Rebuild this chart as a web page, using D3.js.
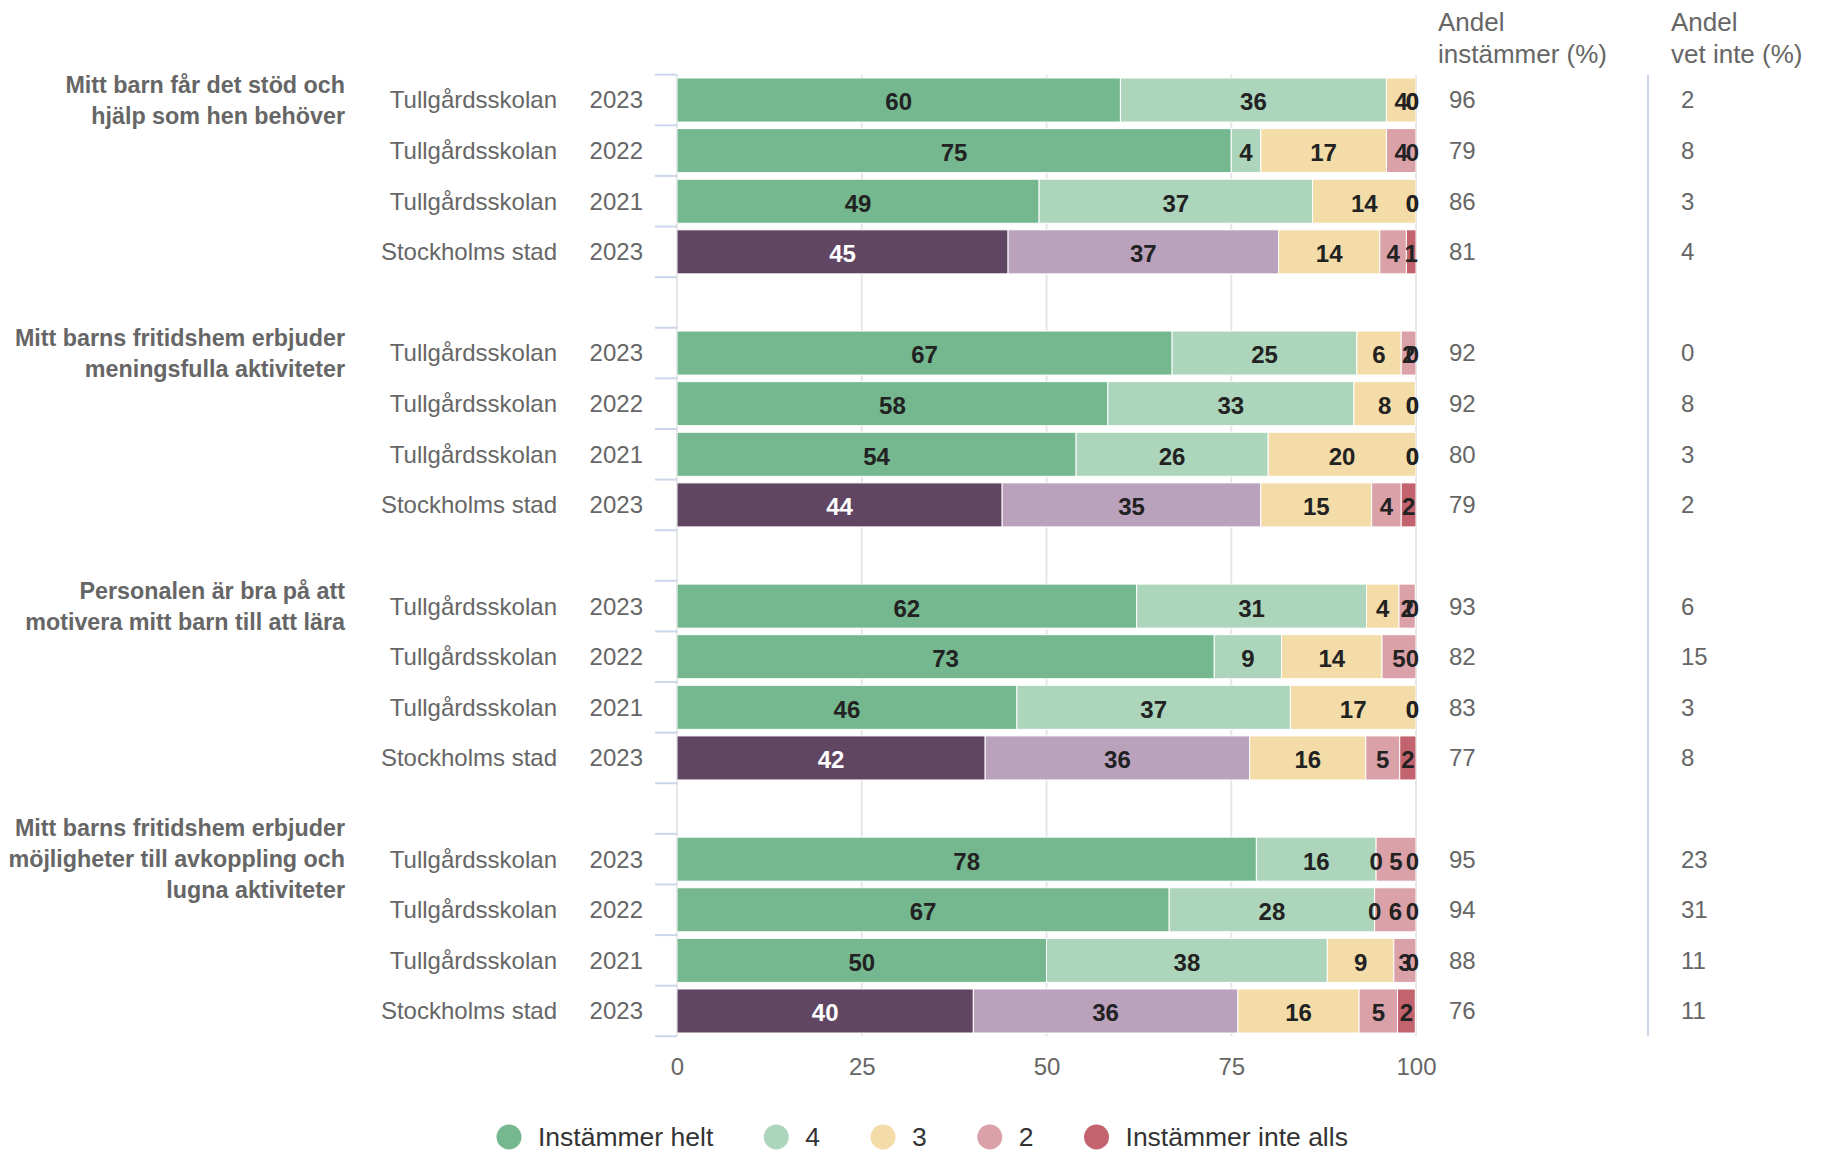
<!DOCTYPE html>
<html lang="sv">
<head>
<meta charset="utf-8">
<title>Fritidshem</title>
<script src="https://cdn.jsdelivr.net/npm/d3@7"></script>
<style>
  body { margin: 0; background: #fff; }
  svg { display: block; font-family: "Liberation Sans", Arial, Helvetica, sans-serif; }
</style>
</head>
<body>
<div id="chart"></div>
<script>
// Frågor, en per grupp (radbrytningar som i originalet)
const questions = [
    ["Mitt barn får det stöd och", "hjälp som hen behöver"],
    ["Mitt barns fritidshem erbjuder", "meningsfulla aktiviteter"],
    ["Personalen är bra på att", "motivera mitt barn till att lära"],
    ["Mitt barns fritidshem erbjuder", "möjligheter till avkoppling och", "lugna aktiviteter"]
];
const units = ["Tullgårdsskolan", "Tullgårdsskolan", "Tullgårdsskolan", "Stockholms stad"];
const years = ["2023", "2022", "2021", "2023"];
const answers = ["Instämmer helt", "4", "3", "2", "Instämmer inte alls"];

// Andelar (%) per svarsalternativ, 16 rader = 4 frågor x 4 rader
const helt     = [60, 75, 49, 44.8, 67, 58.3, 54, 44, 62.2, 72.7, 46, 41.7, 78.4, 66.6, 50, 40.1];
const fyra     = [36, 4, 37, 36.6, 25, 33.3, 26, 35, 31.1, 9.1, 37, 35.8, 16.2, 27.8, 38, 35.8];
const tre      = [4, 17, 14, 13.7, 6, 8.3, 20, 15, 4.4, 13.6, 17, 15.7, 0, 0, 9, 16.4];
const tva      = [0, 4, 0, 3.6, 2, 0, 0, 4, 2.2, 4.6, 0, 4.6, 5.4, 5.6, 3, 5.2];
const inteAlls = [0, 0, 0, 1.3, 0, 0, 0, 2, 0, 0, 0, 2.2, 0, 0, 0, 2.4];

const andelInstammer = [96, 79, 86, 81, 92, 92, 80, 79, 93, 82, 83, 77, 95, 94, 88, 76];
const andelVetInte   = [2, 8, 3, 4, 0, 8, 3, 2, 6, 15, 3, 8, 23, 31, 11, 11];

const xTicks = [0, 25, 50, 75, 100];

const colorsSkola = ["#75b78e", "#acd5bb", "#f3dca8", "#dba1a8", "#c2636e"];
const colorsStad  = ["#604663", "#baa1bc", "#f3dca8", "#dba1a8", "#c2636e"];

const width = 1823;
const height = 1155;
const plotTop = 74.7, plotBottom = 1036.3;

const rows = d3.range(16).map(r => ({
    g: Math.floor(r / 4),
    i: r % 4,
    "Instämmer helt": helt[r],
    "4": fyra[r],
    "3": tre[r],
    "2": tva[r],
    "Instämmer inte alls": inteAlls[r],
    instammer: andelInstammer[r],
    vetInte: andelVetInte[r]
}));

const svg = d3.select("#chart")
    .append("svg")
    .attr("width", width)
    .attr("height", height);

// Skalor
const x = d3.scaleLinear().domain([0, 100]).range([677, 1416]);
const yGroup = d3.scaleBand().domain(d3.range(4)).range([plotTop, plotBottom]).paddingInner(0.2);
const yRow = d3.scaleBand().domain(d3.range(4)).range([0, yGroup.bandwidth()])
    .paddingInner(0.13).paddingOuter(0.065);
const rowTop = d => yGroup(d.g) + yRow(d.i);
const rowMid = d => rowTop(d) + yRow.bandwidth() / 2;

// Stödlinjer
svg.append("g")
    .selectAll("line")
    .data(xTicks)
    .enter()
    .append("line")
    .attr("x1", d => x(d)).attr("x2", d => x(d))
    .attr("y1", plotTop).attr("y2", plotBottom)
    .attr("stroke", "#e6e6e6")
    .attr("stroke-width", 2);

// Tickar på y-axeln (gränser mellan raderna)
svg.append("g")
    .selectAll("line")
    .data(d3.range(4).flatMap(g => d3.range(5).map(k => yGroup(g) + yRow.step() * k)))
    .enter()
    .append("line")
    .attr("x1", 655).attr("x2", x(0))
    .attr("y1", d => d).attr("y2", d => d)
    .attr("stroke", "#ccd6eb")
    .attr("stroke-width", 2);

// Staplar
svg.append("clipPath").attr("id", "plot")
    .append("rect")
    .attr("x", x(0)).attr("y", plotTop)
    .attr("width", x(100) - x(0)).attr("height", plotBottom - plotTop);

const series = d3.stack().keys(answers)(rows);

const bars = svg.append("g").attr("clip-path", "url(#plot)");
series.forEach((s, k) => {
    bars.selectAll(".seg" + k)
        .data(s)
        .enter()
        .append("rect")
        .attr("x", d => x(d[0]))
        .attr("y", d => rowTop(d.data))
        .attr("width", d => Math.max(0, x(d[1]) - x(d[0])))
        .attr("height", yRow.bandwidth())
        .attr("fill", d => (d.data.i === 3 ? colorsStad : colorsSkola)[k])
        .attr("stroke", "#fff")
        .attr("stroke-width", 1);
});

// Dataetiketter (justeras in i ritytan vid höger kant)
const labels = svg.append("g")
    .style("font-size", "24px")
    .style("font-weight", "bold");
series.forEach((s, k) => {
    labels.selectAll(".lab" + k)
        .data(s)
        .enter()
        .append("text")
        .attr("text-anchor", "middle")
        .attr("y", d => rowMid(d.data) + 2)
        .attr("dy", "0.35em")
        .attr("fill", d => (d.data.i === 3 && k === 0) ? "#fff" : "#222")
        .text(d => Math.round(d.data[answers[k]]))
        .each(function(d) {
            const w = this.getComputedTextLength();
            let cx = x((d[0] + Math.min(d[1], 100)) / 2);
            if (cx + w / 2 > x(100) + 3) cx = x(100) + 3 - w / 2;
            d3.select(this).attr("x", cx);
        });
});

// Radetiketter
const rowLabels = svg.append("g")
    .style("font-size", "24px")
    .attr("fill", "#666");
rowLabels.selectAll(".unit")
    .data(rows)
    .enter()
    .append("text")
    .attr("x", 557)
    .attr("y", rowMid)
    .attr("dy", "0.35em")
    .attr("text-anchor", "end")
    .text(d => units[d.i]);
rowLabels.selectAll(".year")
    .data(rows)
    .enter()
    .append("text")
    .attr("x", 643)
    .attr("y", rowMid)
    .attr("dy", "0.35em")
    .attr("text-anchor", "end")
    .text(d => years[d.i]);

// Frågetexter, centrerade kring gruppens första rad
const q = svg.append("g")
    .style("font-size", "23.3px")
    .style("font-weight", "bold")
    .attr("fill", "#666")
    .selectAll("text")
    .data(questions)
    .enter()
    .append("text")
    .attr("text-anchor", "end");
q.each(function(lines, g) {
    const c = yGroup(g) + yRow(0) + yRow.bandwidth() / 2;
    d3.select(this).selectAll("tspan")
        .data(lines)
        .enter()
        .append("tspan")
        .attr("x", 345)
        .attr("y", (d, j) => c + (j - (lines.length - 1) / 2) * 31)
        .attr("dy", "0.35em")
        .text(d => d);
});

// Kolumner till höger
svg.append("line")
    .attr("x1", 1648).attr("x2", 1648)
    .attr("y1", plotTop).attr("y2", plotBottom)
    .attr("stroke", "#ccd6eb")
    .attr("stroke-width", 2);

const cols = svg.append("g")
    .style("font-size", "24px")
    .attr("fill", "#666");
cols.selectAll(".inst")
    .data(rows)
    .enter()
    .append("text")
    .attr("x", 1449)
    .attr("y", rowMid)
    .attr("dy", "0.35em")
    .text(d => d.instammer);
cols.selectAll(".vet")
    .data(rows)
    .enter()
    .append("text")
    .attr("x", 1681)
    .attr("y", rowMid)
    .attr("dy", "0.35em")
    .text(d => d.vetInte);

const headers = [["Andel", "instämmer (%)", 1438], ["Andel", "vet inte (%)", 1671]];
const head = svg.append("g")
    .style("font-size", "26px")
    .attr("fill", "#666");
headers.forEach(h => {
    head.append("text").attr("x", h[2]).attr("y", 31).text(h[0]);
    head.append("text").attr("x", h[2]).attr("y", 63).text(h[1]);
});

// x-axel
const xAxis = svg.append("g")
    .attr("transform", "translate(0,1058)")
    .call(d3.axisBottom(x).tickValues(xTicks).tickSize(0).tickPadding(0));
xAxis.select(".domain").remove();
xAxis.selectAll("text")
    .style("font-size", "24px")
    .style("font-family", "inherit")
    .attr("fill", "#666");

// Teckenförklaring
const legend = svg.append("g")
    .style("font-size", "26.5px")
    .attr("fill", "#333");
let cursor = 0;
answers.forEach((a, k) => {
    const item = legend.append("g").attr("transform", `translate(${cursor},0)`);
    item.append("circle")
        .attr("cx", 0).attr("cy", 0).attr("r", 12.5)
        .attr("fill", colorsSkola[k]);
    const t = item.append("text")
        .attr("x", 29).attr("dy", "0.35em")
        .text(a);
    cursor += 29 + t.node().getComputedTextLength() + 63;
});
legend.attr("transform", "translate(509,1137)");
</script>
</body>
</html>
